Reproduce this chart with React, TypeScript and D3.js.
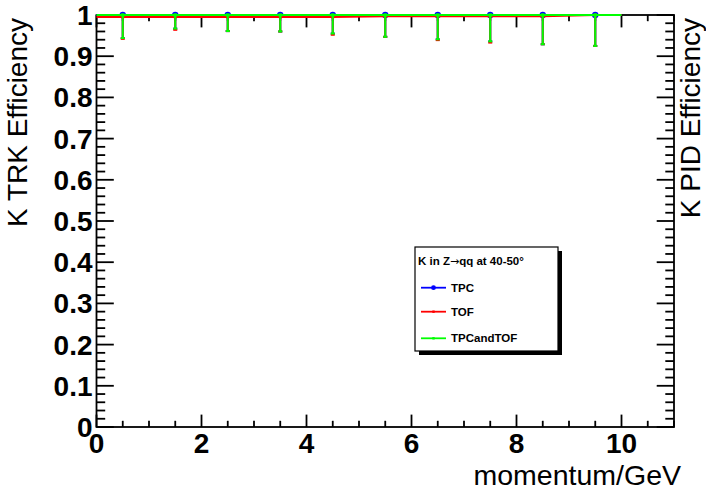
import React from "react";
import * as d3 from "d3";

// Bin centres (GeV) and per-bin efficiencies with lower error-bar ends
const momentum = [0.5, 1.5, 2.5, 3.5, 4.5, 5.5, 6.5, 7.5, 8.5, 9.5];
const tpcEff = [1, 1, 1, 1, 1, 1, 1, 1, 1, 1];
const tpcLow = [0.944, 0.967, 0.961, 0.96, 0.955, 0.947, 0.941, 0.936, 0.929, 0.925];
const tofEff = [0.995, 0.995, 0.995, 0.995, 0.995, 0.997, 0.997, 0.997, 0.997, 1.0];
const tofLow = [0.942, 0.964, 0.961, 0.96, 0.952, 0.947, 0.939, 0.933, 0.929, 0.925];
const bothEff = [1, 1, 1, 1, 1, 1, 1, 1, 1, 1];
const bothLow = [0.944, 0.967, 0.961, 0.96, 0.955, 0.947, 0.941, 0.936, 0.929, 0.925];

const xTickLabels = ["0", "2", "4", "6", "8", "10"];
const yTickLabels = ["0", "0.1", "0.2", "0.3", "0.4", "0.5", "0.6", "0.7", "0.8", "0.9", "1"];

const W = 706;
const H = 492;
const L = 96.5;
const R = 674;
const T = 15;
const B = 427;

const x = d3.scaleLinear().domain([0, 11]).range([L, R]);
const y = d3.scaleLinear().domain([0, 1]).range([B, T]);

const FONT = "'Liberation Sans', Arial, Helvetica, sans-serif";

type Series = {
  name: string;
  color: string;
  eff: number[];
  low: number[];
  marker: "circle" | "square";
  size: number;
};

const series: Series[] = [
  { name: "TPC", color: "#0000ff", eff: tpcEff, low: tpcLow, marker: "circle", size: 3.2 },
  { name: "TOF", color: "#ff0000", eff: tofEff, low: tofLow, marker: "square", size: 2.8 },
  { name: "TPCandTOF", color: "#00ff00", eff: bothEff, low: bothLow, marker: "square", size: 3.4 },
];

const lineGen = d3
  .line<[number, number]>()
  .x((d) => x(d[0]))
  .y((d) => y(d[1]));

// Histogram drawn with "L": polyline through bin centres, extended to the edges
function seriesPath(eff: number[]): string {
  const pts: [number, number][] = [[0, eff[0]]];
  momentum.forEach((m, i) => pts.push([m, eff[i]]));
  pts.push([10, eff[eff.length - 1]]);
  return lineGen(pts) || "";
}

function Marker({ cx, cy, s }: { cx: number; cy: number; s: Series }) {
  if (s.marker === "circle") {
    return <circle cx={cx} cy={cy} r={s.size} fill={s.color} />;
  }
  return <rect x={cx - s.size / 2} y={cy - s.size / 2} width={s.size} height={s.size} fill={s.color} />;
}

export default function App() {
  const xMinor = d3.range(0, 11.001, 0.5);
  const xMajor = d3.range(0, 10.001, 2);
  const yMinor = d3.range(0, 1.0001, 0.02);
  const yMajor = d3.range(0, 1.0001, 0.1);

  const lx = 415;
  const ly = 247;
  const lw = 143;
  const lh = 104;
  const entryY = [287.7, 311.7, 338.3];

  return (
    <svg
      width={W}
      height={H}
      style={{ position: "absolute", left: 0, top: 0, background: "#fff" }}
      fontFamily={FONT}
    >
      <rect x={0} y={0} width={W} height={H} fill="#fff" />

      {/* frame */}
      <rect x={L} y={T} width={R - L} height={B - T} fill="none" stroke="#000" strokeWidth={1.8} />

      {/* x ticks, bottom and top */}
      {xMinor.map((v) => {
        const major = Math.abs(v / 2 - Math.round(v / 2)) < 1e-6;
        const len = major ? 12.4 : 6.2;
        return (
          <g key={"xt" + v} stroke="#000" strokeWidth={1.8}>
            <line x1={x(v)} x2={x(v)} y1={B} y2={B - len} />
            <line x1={x(v)} x2={x(v)} y1={T} y2={T + len} />
          </g>
        );
      })}

      {/* y ticks, left and right */}
      {yMinor.map((v, i) => {
        const major = i % 5 === 0;
        const len = major ? 17.3 : 8.7;
        return (
          <g key={"yt" + i} stroke="#000" strokeWidth={1.8}>
            <line x1={L} x2={L + len} y1={y(v)} y2={y(v)} />
            <line x1={R} x2={R - len} y1={y(v)} y2={y(v)} />
          </g>
        );
      })}

      {/* tick labels */}
      {xMajor.map((v, i) => (
        <text key={"xl" + i} x={x(v)} y={453} textAnchor="middle" fontSize={28} fontWeight="bold">
          {xTickLabels[i]}
        </text>
      ))}
      {yMajor.map((v, i) => (
        <text
          key={"yl" + i}
          x={L - 4}
          y={y(v)}
          dy="0.36em"
          textAnchor="end"
          fontSize={28}
          fontWeight="bold"
        >
          {yTickLabels[i]}
        </text>
      ))}

      {/* axis titles */}
      <text x={681} y={485} textAnchor="end" fontSize={28.5}>
        momentum/GeV
      </text>
      <text transform="translate(27,18) rotate(-90)" textAnchor="end" fontSize={28}>
        K TRK Efficiency
      </text>
      <text transform="translate(700,18) rotate(-90)" textAnchor="end" fontSize={28}>
        K PID Efficiency
      </text>

      {/* data */}
      {series.map((s) => (
        <g key={s.name}>
          <path d={seriesPath(s.eff)} fill="none" stroke={s.color} strokeWidth={2} />
          {momentum.map((m, i) => (
            <g key={i} stroke={s.color} strokeWidth={2}>
              <line x1={x(m)} x2={x(m)} y1={y(s.eff[i])} y2={y(s.low[i])} />
              <line x1={x(m) - 2} x2={x(m) + 2} y1={y(s.low[i])} y2={y(s.low[i])} />
            </g>
          ))}
          {momentum.map((m, i) => (
            <Marker key={"m" + i} cx={x(m)} cy={y(s.eff[i])} s={s} />
          ))}
        </g>
      ))}

      {/* legend */}
      <rect x={lx + 4} y={ly + 4} width={lw} height={lh} fill="#000" />
      <rect x={lx} y={ly} width={lw} height={lh} fill="#fff" stroke="#000" strokeWidth={1.2} />
      <text x={418} y={265} fontSize={11.5} fontWeight="bold">
        K in Z
        <tspan fontFamily="'DejaVu Sans', sans-serif" fontWeight="normal" fontSize={11}>
          →
        </tspan>
        qq at 40-50°
      </text>
      {series.map((s, i) => (
        <g key={"leg" + s.name}>
          <line x1={421} x2={446} y1={entryY[i]} y2={entryY[i]} stroke={s.color} strokeWidth={1.8} />
          <Marker cx={433.5} cy={entryY[i]} s={s.marker === "circle" ? { ...s, size: 2.4 } : { ...s, size: 2.4 }} />
          <text x={451} y={entryY[i] + 4} fontSize={11.5} fontWeight="bold">
            {s.name}
          </text>
        </g>
      ))}
    </svg>
  );
}
